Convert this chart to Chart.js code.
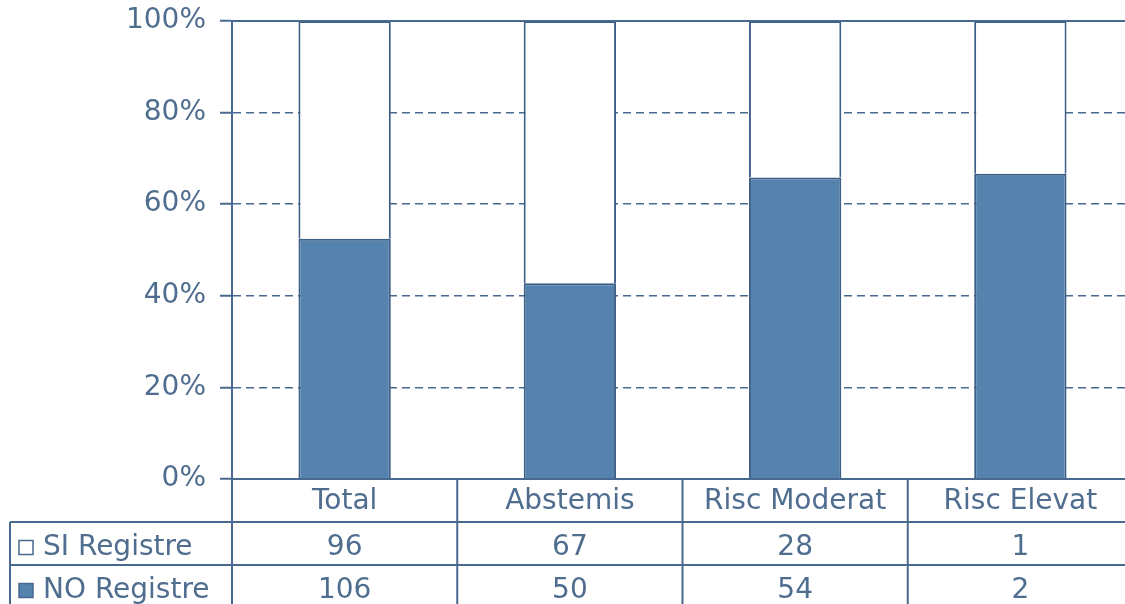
<!DOCTYPE html>
<html>
<head>
<meta charset="utf-8">
<script src="https://cdn.jsdelivr.net/npm/chart.js@4/dist/chart.umd.min.js"></script>
<style>
html, body { margin: 0; padding: 0; background: #fff; overflow: hidden; }
#wrap { width: 1134px; height: 612px; position: relative; }
</style>
</head>
<body>
<div id="wrap"><canvas id="mycanvas"></canvas></div>
<script>
var categories = ['Total', 'Abstemis', 'Risc Moderat', 'Risc Elevat'];
var siRegistre = [96, 67, 28, 1];
var noRegistre = [106, 50, 54, 2];
var seriesNames = ['SI Registre', 'NO Registre'];
var yTicks = [0, 20, 40, 60, 80, 100];

var lineClr = '#496a90';
var textClr = '#4f6d8f';
var barClr = '#5682ae';
var fontFam = '"DejaVu Sans", Verdana, sans-serif';

// 100% stacked: share of each row within its column
var noPct = [], siPct = [];
for (var i = 0; i < categories.length; i++) {
    var tot = siRegistre[i] + noRegistre[i];
    noPct.push(noRegistre[i] / tot * 100);
    siPct.push(siRegistre[i] / tot * 100);
}

var rowH = 43;

var tablePlugin = {
    id: 'dataTable',
    afterDraw: function(chart) {
        var ctx = chart.ctx;
        var a = chart.chartArea;
        var xs = chart.scales.x;
        var h = chart.height;
        var step = xs.getPixelForValue(1) - xs.getPixelForValue(0);
        ctx.save();
        ctx.strokeStyle = lineClr;
        ctx.lineWidth = 2;
        ctx.beginPath();
        // top frame and base line
        ctx.moveTo(a.left, a.top); ctx.lineTo(a.right, a.top);
        ctx.moveTo(a.left, a.bottom); ctx.lineTo(a.right, a.bottom);
        // table rows
        ctx.moveTo(10, a.bottom + rowH); ctx.lineTo(a.right, a.bottom + rowH);
        ctx.moveTo(10, a.bottom + rowH * 2); ctx.lineTo(a.right, a.bottom + rowH * 2);
        // verticals
        ctx.moveTo(10, a.bottom + rowH); ctx.lineTo(10, h);
        ctx.moveTo(a.left, a.bottom); ctx.lineTo(a.left, h);
        for (var i = 0; i < categories.length; i++) {
            var xr = xs.getPixelForValue(i) + step / 2;
            ctx.moveTo(xr, a.bottom); ctx.lineTo(xr, h);
        }
        ctx.stroke();

        ctx.fillStyle = textClr;
        ctx.font = '28px ' + fontFam;
        ctx.textAlign = 'center';
        ctx.textBaseline = 'middle';
        var rows = [siRegistre, noRegistre];
        for (var i = 0; i < categories.length; i++) {
            var cx = xs.getPixelForValue(i);
            ctx.fillText(categories[i], cx, a.bottom + rowH / 2 + 1);
            for (var r = 0; r < rows.length; r++) {
                ctx.fillText(String(rows[r][i]), cx, a.bottom + rowH * (r + 1) + rowH / 2 + 4);
            }
        }
        // legend keys
        ctx.textAlign = 'left';
        for (var r = 0; r < seriesNames.length; r++) {
            var cy = a.bottom + rowH * (r + 1) + rowH / 2 + 4;
            ctx.lineWidth = 1.5;
            if (r === 1) {
                ctx.fillStyle = barClr;
                ctx.fillRect(19, cy - 7, 14, 14);
            }
            ctx.strokeStyle = lineClr;
            ctx.strokeRect(19, cy - 7, 14, 14);
            ctx.fillStyle = textClr;
            ctx.fillText(seriesNames[r], 43, cy);
        }
        ctx.restore();
    }
};

var ctx = document.getElementById('mycanvas');

var barGraph = new Chart(ctx, {
    type: 'bar',
    data: {
        labels: categories,
        datasets: [
            {
                label: seriesNames[1],
                data: noPct,
                backgroundColor: barClr,
                borderColor: '#3d5f85',
                borderWidth: 2,
                categoryPercentage: 1,
                barPercentage: 0.41
            },
            {
                label: seriesNames[0],
                data: siPct,
                backgroundColor: '#ffffff',
                borderColor: '#3d5f85',
                borderWidth: 2,
                categoryPercentage: 1,
                barPercentage: 0.41
            }
        ]
    },
    options: {
        responsive: true,
        maintainAspectRatio: false,
        animation: false,
        layout: { padding: { left: 0, top: 21, right: 1, bottom: 133 } },
        plugins: {
            legend: { display: false },
            tooltip: { enabled: false }
        },
        scales: {
            x: {
                display: false,
                stacked: true
            },
            y: {
                stacked: true,
                min: 0,
                max: 100,
                afterFit: function(s) {
                    s.width = 232;
                    s.paddingTop = 0;
                    s.paddingBottom = 0;
                },
                afterBuildTicks: function(s) {
                    s.ticks = yTicks.map(function(v) { return { value: v }; });
                },
                ticks: {
                    color: textClr,
                    padding: 14,
                    font: { family: fontFam, size: 28 },
                    callback: function(v) { return v + '%'; }
                },
                grid: {
                    color: function(c) {
                        var v = c.tick ? c.tick.value : null;
                        return (v === 0 || v === 100) ? 'rgba(0,0,0,0)' : lineClr;
                    },
                    lineWidth: 1.5,
                    tickColor: lineClr,
                    tickWidth: 2,
                    tickLength: 12
                },
                border: {
                    display: true,
                    color: lineClr,
                    width: 2,
                    dash: [8, 5]
                }
            }
        }
    },
    plugins: [tablePlugin]
});
</script>
</body>
</html>
